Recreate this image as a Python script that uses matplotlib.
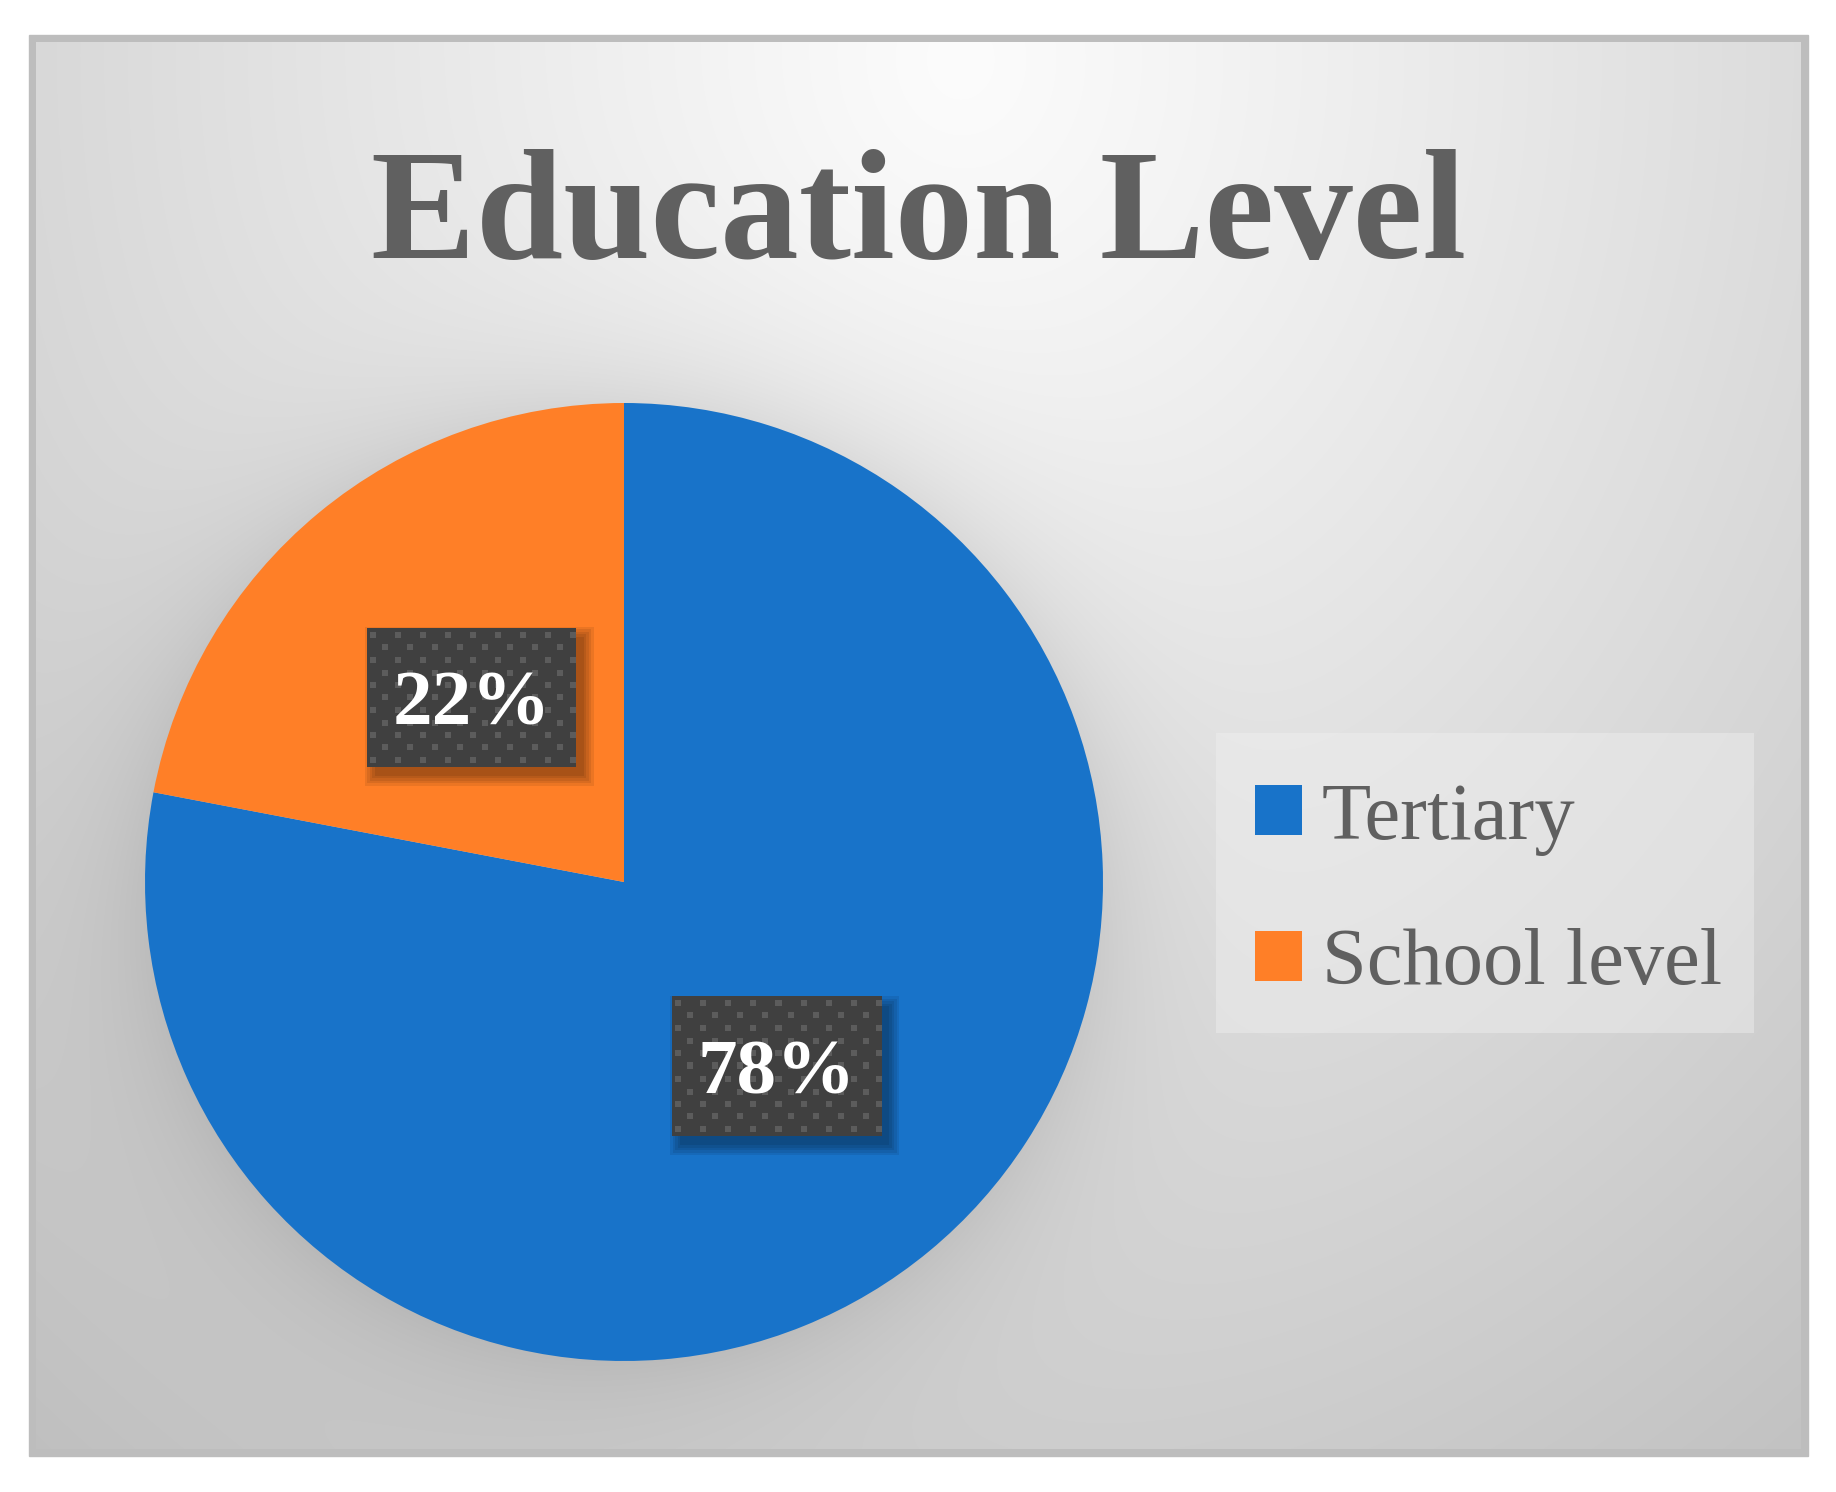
import numpy as np
import matplotlib.pyplot as plt
from matplotlib.patches import Rectangle

# Data
categories = ['Tertiary', 'School level']
shares = [78, 22]
colors = ['#1873C9', '#FF7F27']
title = 'Education Level'

W, H = 1836, 1492
fig = plt.figure(figsize=(W / 100, H / 100), dpi=100)
fig.patch.set_facecolor('white')

# Background panel with radial gradient (pixel coordinates)
bg = fig.add_axes([0, 0, 1, 1])
x0, y0, x1, y1 = 29, 35, 1808, 1456
bg.add_patch(Rectangle((x0, y0), x1 - x0, y1 - y0, color='#bdbdbd', zorder=0))
yy, xx = np.mgrid[y0 + 7:y1 - 7, x0 + 7:x1 - 7]
r = np.sqrt(((xx - 960) / 1250) ** 2 + ((yy - 60) / 1500) ** 2)
v = 252 - 50 * np.clip(r, 0, 1.3) ** 1.1
cx, cy, R = 624, 882, 479
d = np.hypot(xx - cx, yy - cy) - R
v -= 20 * np.exp(-np.clip(d, 0, None) / 70)
img = np.dstack([v, v, v]) / 255
bg.imshow(img, extent=(x0 + 7, x1 - 7, y1 - 7, y0 + 7), interpolation='bilinear',
          aspect='auto', zorder=1)
# legend panel
bg.add_patch(Rectangle((1216, 733), 538, 300, color='#f0f0f0', alpha=0.45, lw=0, zorder=2))
bg.set_xlim(0, W)
bg.set_ylim(H, 0)
bg.axis('off')

# Title
fig.text(0.5 * (x0 + x1) / W, 1 - 258 / H, title, ha='center', va='baseline',
         fontsize=113, fontweight='bold', family='Liberation Serif', color='#606060')

# Pie
ax = fig.add_axes([(cx - R) / W, 1 - (cy + R) / H, 2 * R / W, 2 * R / H])
wedges, _ = ax.pie(shares, colors=colors, startangle=90, counterclock=False,
                   radius=1, wedgeprops=dict(linewidth=0))

# Data labels: dark dotted boxes with drop shadow
pw, ph = 209, 139
bw, bh = pw / R, ph / R
pat = np.full((ph, pw), 64.0)
for n, j in enumerate(np.arange(4, ph, 12.5)):
    j = int(round(j))
    off = 3 if n % 2 == 0 else 15
    for i in range(off, pw, 25):
        pat[j:j + 6, i:i + 6] = 92
pat = np.dstack([pat, pat, pat]) / 255

px = 1 / R
for w, s in zip(wedges, shares):
    th = np.deg2rad((w.theta1 + w.theta2) / 2)
    lx, ly = 0.5 * np.cos(th), 0.5 * np.sin(th)
    for k in range(5):
        e = k * 2.5 * px
        ax.add_patch(Rectangle((lx - bw / 2 + 8 * px - e, ly - bh / 2 - 9 * px - e),
                               bw + 2 * e, bh + 2 * e, color='black', alpha=0.08,
                               lw=0, zorder=3))
    ax.imshow(pat, extent=(lx - bw / 2, lx + bw / 2, ly - bh / 2, ly + bh / 2),
              aspect='auto', interpolation='nearest', zorder=4)
    ax.text(lx, ly - 27 * px, f'{s}%', ha='center', va='baseline', fontsize=57,
            fontweight='bold', family='Liberation Serif', color='white', zorder=5)
ax.set_xlim(-1, 1)
ax.set_ylim(-1, 1)
ax.axis('off')

# Legend
fig.legend(wedges, categories, loc='center left',
           bbox_to_anchor=(1255 / W, 1 - 892 / H), frameon=False,
           prop=dict(family='Liberation Serif', size=58), labelcolor='#606060',
           handlelength=0.58, handleheight=0.58, handletextpad=0.25,
           labelspacing=0.9, borderpad=0, borderaxespad=0)

fig.savefig('out.png', dpi=100)
